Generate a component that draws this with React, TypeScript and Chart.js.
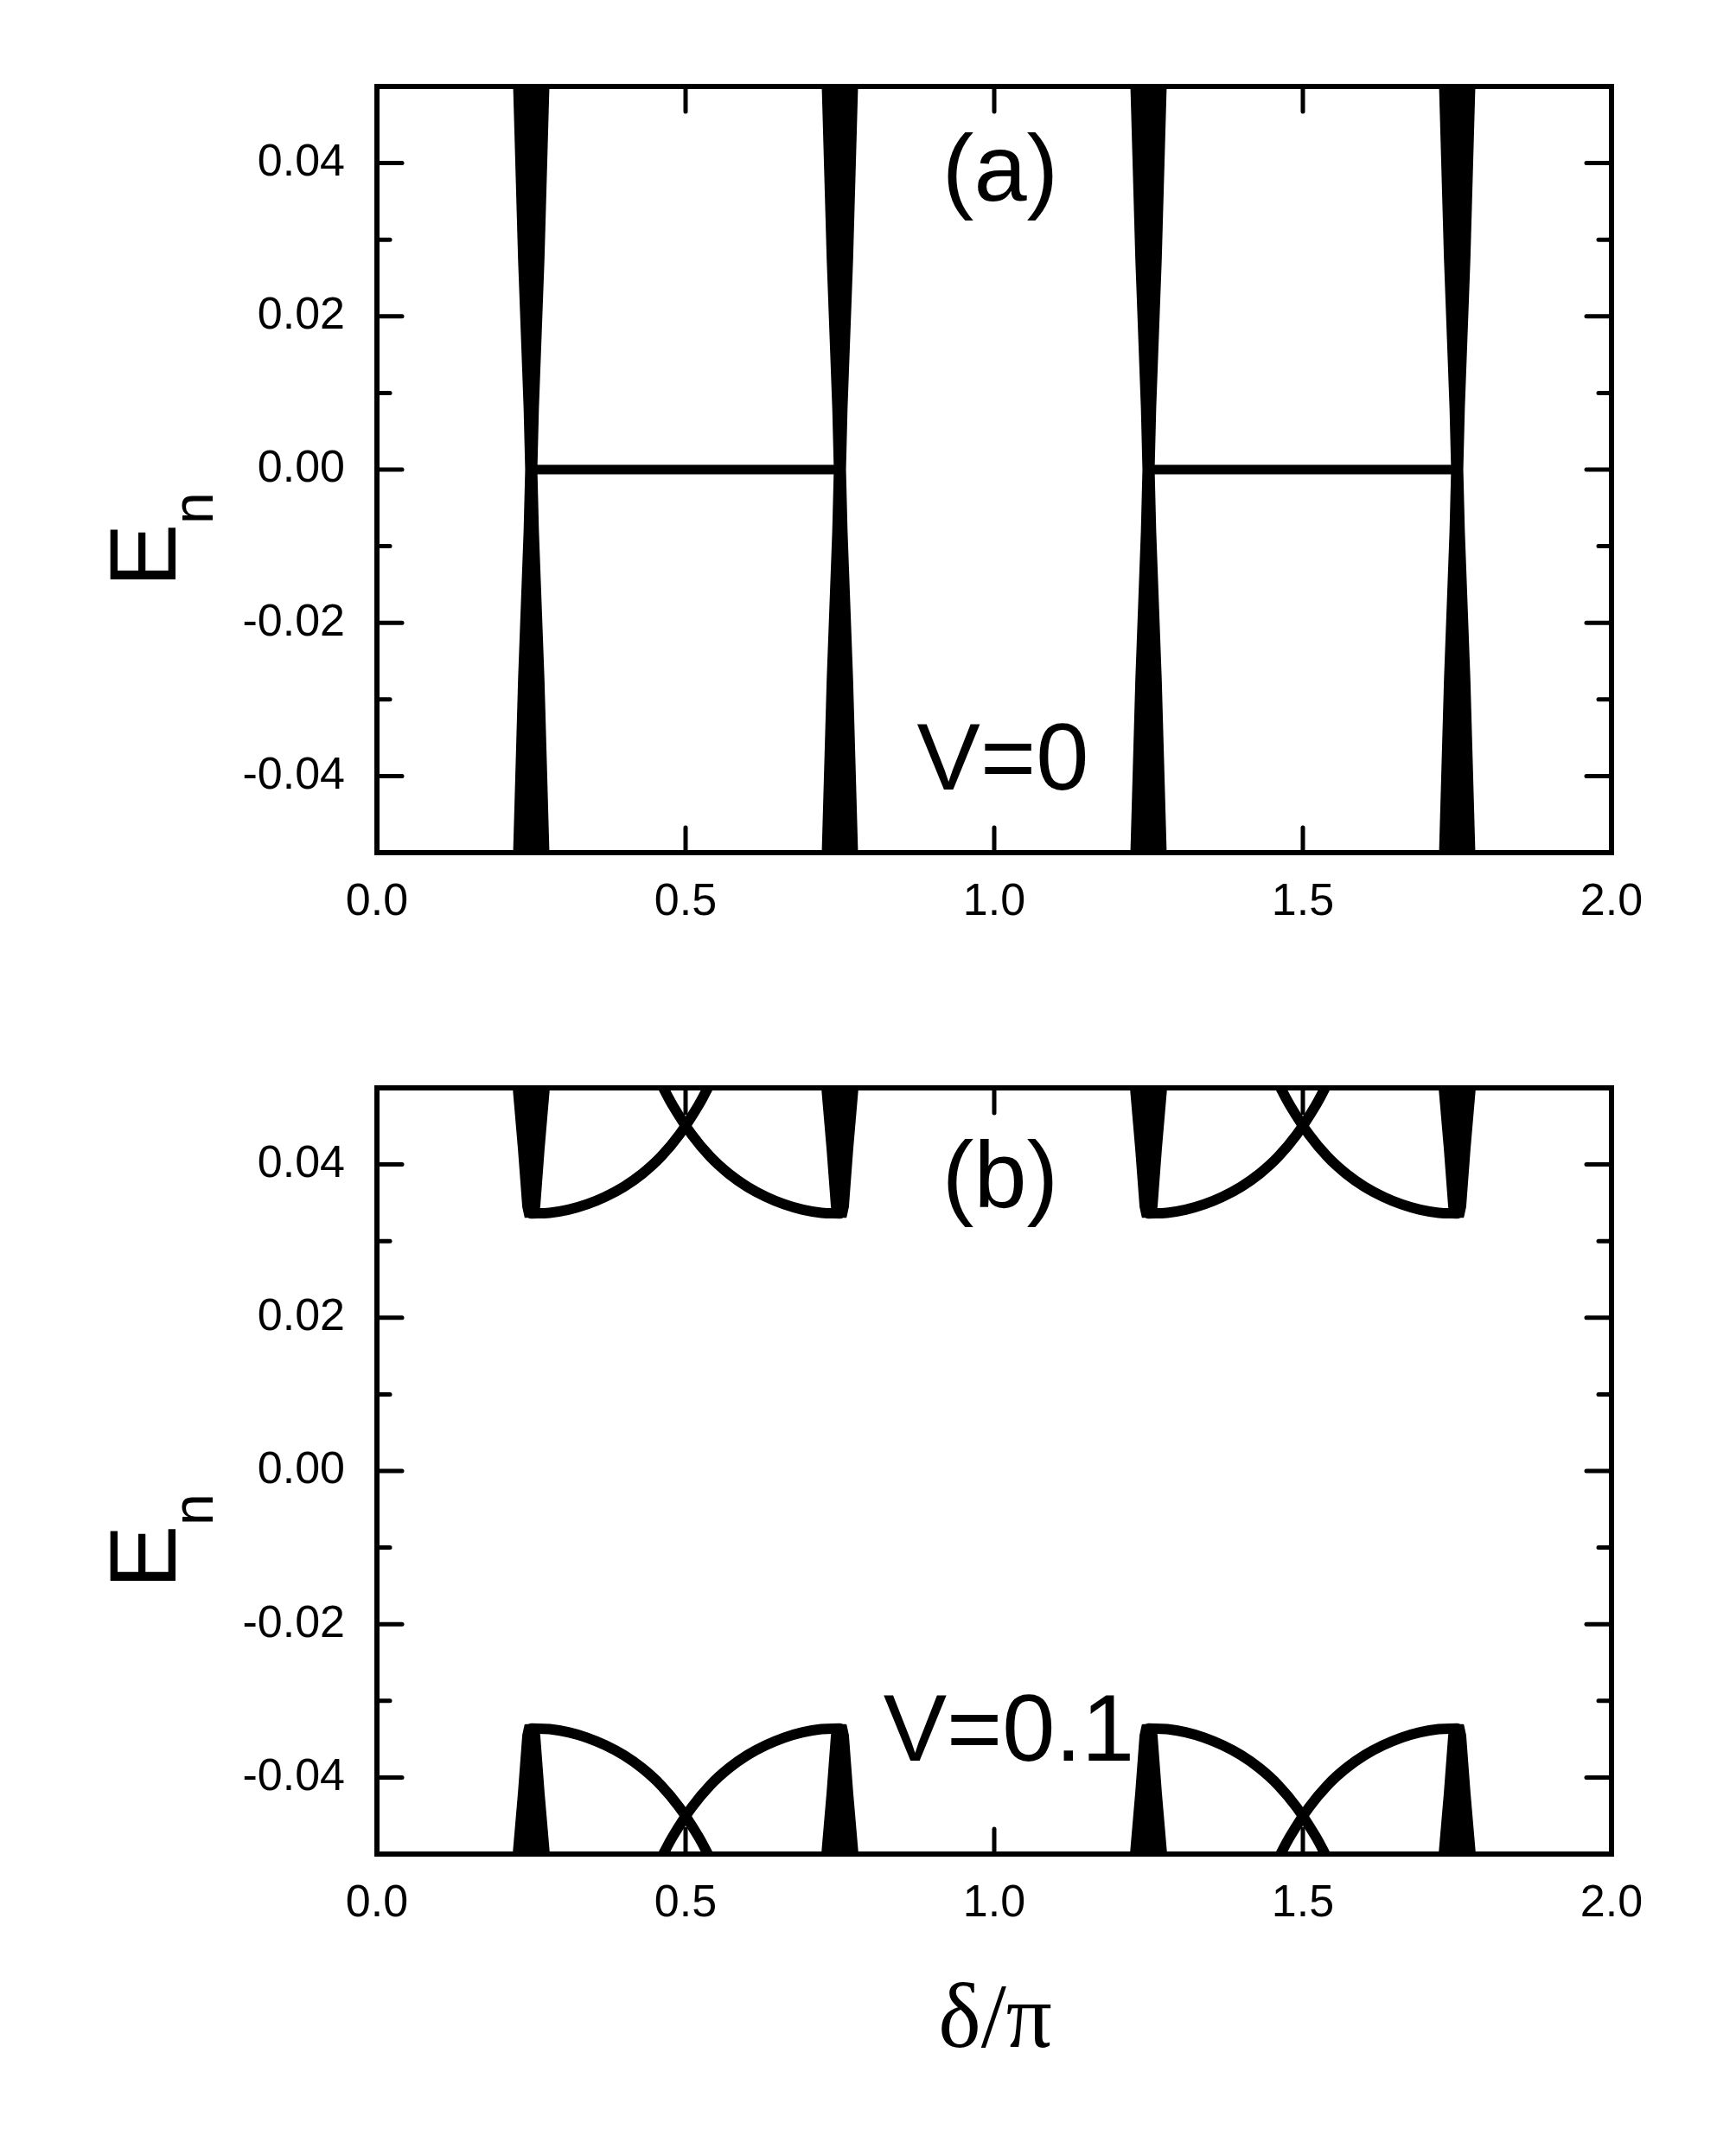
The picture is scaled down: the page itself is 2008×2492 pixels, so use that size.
import React, { useEffect, useRef } from 'react';
import { Chart, registerables } from 'chart.js';
Chart.register(...registerables);

// ---------- axes ----------
const X_RANGE = [0, 2];
const Y_RANGE = [-0.05, 0.05];
const X_TICK_STEP = 0.25;
const Y_TICK_STEP = 0.01;

// ---------- data ----------
const BAND_CENTERS = [0.25, 0.75, 1.25, 1.75];

// (a) V=0 : dense band fans around each band centre (E, half-width)
const WEDGE_A_E = [0.05, 0.0274, 0.008, 0];
const WEDGE_A_HALF = [0.028, 0.02, 0.011, 0.0085];
// zero-energy flat modes
const ZERO_LINE_START = [0.25, 1.25];
const ZERO_LINE_END = [0.75, 1.75];
const ZERO_LINE_E = [0, 0];

// (b) V=0.1 : truncated bands (E, half-width), upper band, mirrored below
const WEDGE_B_E = [0.05, 0.042, 0.0345, 0.0332];
const WEDGE_B_HALF = [0.028, 0.0195, 0.0125, 0.009];
// edge-state arcs: offset from origin vs |E|
const ARC_ORIGINS_RIGHTWARD = [0.25, 1.25];
const ARC_ORIGINS_LEFTWARD = [0.75, 1.75];
const ARC_DX = [0, 0.03, 0.06, 0.09, 0.12, 0.15, 0.18, 0.21, 0.24, 0.27, 0.29];
const ARC_E = [0.0336, 0.0337, 0.0341, 0.0348, 0.0358, 0.0371, 0.0388, 0.041, 0.0439, 0.0476, 0.0506];

// ---------- layout ----------
const W = 2008;
const TOP_H = 1158;
const BOT_H = 2492 - TOP_H;
const AREA_LEFT = 436;
const AREA_RIGHT = 1864;
const AREA_TOP = 100;
const AREA_BOTTOM = 986;

const SANS = '"Liberation Sans", Arial, sans-serif';
const SERIF = '"Liberation Serif", "Times New Roman", serif';

type Pt = { x: number; y: number };

function wedgeA(c: number): Pt[] {
  const n = WEDGE_A_E.length;
  const pts: Pt[] = [];
  for (let i = 0; i < n; i++) pts.push({ x: c + WEDGE_A_HALF[i], y: WEDGE_A_E[i] });
  for (let i = n - 2; i >= 0; i--) pts.push({ x: c + WEDGE_A_HALF[i], y: -WEDGE_A_E[i] });
  for (let i = 0; i < n; i++) pts.push({ x: c - WEDGE_A_HALF[i], y: -WEDGE_A_E[i] });
  for (let i = n - 2; i >= 0; i--) pts.push({ x: c - WEDGE_A_HALF[i], y: WEDGE_A_E[i] });
  pts.push(pts[0]);
  return pts;
}

function wedgeB(c: number, s: number): Pt[] {
  const n = WEDGE_B_E.length;
  const pts: Pt[] = [];
  for (let i = 0; i < n; i++) pts.push({ x: c + WEDGE_B_HALF[i], y: s * WEDGE_B_E[i] });
  for (let i = n - 1; i >= 0; i--) pts.push({ x: c - WEDGE_B_HALF[i], y: s * WEDGE_B_E[i] });
  pts.push(pts[0]);
  return pts;
}

const base = {
  showLine: true,
  pointRadius: 0,
  pointHoverRadius: 0,
  borderColor: '#000',
  backgroundColor: '#000',
  clip: 0,
};

function datasetsA() {
  const ds: any[] = [];
  BAND_CENTERS.forEach((c) => {
    ds.push({ ...base, data: wedgeA(c), fill: 'shape', borderWidth: 2, borderJoinStyle: 'round', tension: 0 });
  });
  ZERO_LINE_START.forEach((x0, i) => {
    ds.push({
      ...base,
      data: [{ x: x0, y: ZERO_LINE_E[i] }, { x: ZERO_LINE_END[i], y: ZERO_LINE_E[i] }],
      fill: false,
      borderWidth: 11,
      borderCapStyle: 'round',
    });
  });
  return ds;
}

function datasetsB() {
  const ds: any[] = [];
  [1, -1].forEach((s) => {
    BAND_CENTERS.forEach((c) => {
      ds.push({ ...base, data: wedgeB(c, s), fill: 'shape', borderWidth: 3, borderJoinStyle: 'round', tension: 0 });
    });
    ARC_ORIGINS_RIGHTWARD.forEach((o) => {
      ds.push({
        ...base,
        data: ARC_DX.map((d, i) => ({ x: o + d, y: s * ARC_E[i] })),
        fill: false, borderWidth: 12, tension: 0.4, borderCapStyle: 'round',
      });
    });
    ARC_ORIGINS_LEFTWARD.forEach((o) => {
      ds.push({
        ...base,
        data: ARC_DX.map((d, i) => ({ x: o - d, y: s * ARC_E[i] })),
        fill: false, borderWidth: 12, tension: 0.4, borderCapStyle: 'round',
      });
    });
  });
  return ds;
}

type TextItem = { text: string; x: number; y: number; font: string; align?: CanvasTextAlign };

function makePlugin(texts: TextItem[], showXTitle: boolean) {
  return {
    id: 'frameAndText',
    afterDatasetsDraw(chart: any) {
      const { ctx, chartArea: a, scales } = chart;
      const xs = scales.x;
      const ys = scales.y;
      ctx.save();
      ctx.strokeStyle = '#000';
      ctx.lineWidth = 6;
      ctx.lineJoin = 'miter';
      ctx.strokeRect(a.left, a.top, a.right - a.left, a.bottom - a.top);
      ctx.lineWidth = 5;
      ctx.lineCap = 'round';
      const seg = (x1: number, y1: number, x2: number, y2: number) => {
        ctx.beginPath();
        ctx.moveTo(x1, y1);
        ctx.lineTo(x2, y2);
        ctx.stroke();
      };
      for (const t of xs.ticks) {
        const v = t.value;
        if (v <= X_RANGE[0] + 1e-9 || v >= X_RANGE[1] - 1e-9) continue;
        const major = Math.round(v / X_TICK_STEP) % 2 === 0;
        const len = major ? 29 : 15;
        const px = xs.getPixelForValue(v);
        seg(px, a.bottom, px, a.bottom - len);
        seg(px, a.top, px, a.top + len);
      }
      for (const t of ys.ticks) {
        const v = t.value;
        if (v <= Y_RANGE[0] + 1e-9 || v >= Y_RANGE[1] - 1e-9) continue;
        const major = Math.abs(Math.round(v / Y_TICK_STEP)) % 2 === 0;
        const len = major ? 29 : 15;
        const py = ys.getPixelForValue(v);
        seg(a.left, py, a.left + len, py);
        seg(a.right, py, a.right - len, py);
      }
      ctx.restore();
    },
    afterDraw(chart: any) {
      const { ctx } = chart;
      ctx.save();
      ctx.fillStyle = '#000';
      ctx.textBaseline = 'alphabetic';
      for (const t of texts) {
        ctx.font = t.font;
        ctx.textAlign = t.align || 'center';
        ctx.fillText(t.text, t.x, t.y);
      }
      // y-axis title E_n (rotated)
      ctx.translate(203, 679);
      ctx.rotate(-Math.PI / 2);
      ctx.textAlign = 'left';
      ctx.font = `110px ${SANS}`;
      ctx.fillText('E', 0, 0);
      ctx.font = `66px ${SANS}`;
      ctx.fillText('n', 73, 43);
      ctx.restore();
      if (showXTitle) {
        ctx.save();
        ctx.fillStyle = '#000';
        ctx.font = `105px ${SERIF}`;
        ctx.textAlign = 'center';
        ctx.textBaseline = 'alphabetic';
        ctx.fillText('δ/π', 1151, 1209);
        ctx.restore();
      }
    },
  };
}

function Panel(props: { top: number; height: number; datasets: any[]; texts: TextItem[]; xTitle: boolean }) {
  const ref = useRef<HTMLCanvasElement>(null);
  useEffect(() => {
    if (!ref.current) return;
    const h = props.height;
    const chart = new Chart(ref.current, {
      type: 'scatter',
      data: { datasets: props.datasets },
      options: {
        animation: false,
        responsive: false,
        devicePixelRatio: 1,
        layout: { padding: { left: 0, right: W - AREA_RIGHT, top: AREA_TOP, bottom: 0 } },
        plugins: { legend: { display: false }, tooltip: { enabled: false } },
        events: [],
        scales: {
          x: {
            type: 'linear',
            min: X_RANGE[0],
            max: X_RANGE[1],
            grid: { display: false, drawTicks: false },
            border: { display: false },
            ticks: {
              stepSize: X_TICK_STEP,
              autoSkip: false,
              maxRotation: 0,
              padding: 26,
              color: '#000',
              font: { family: SANS, size: 52 },
              callback: (v: any) => {
                const k = Math.round(Number(v) / X_TICK_STEP);
                return k % 2 === 0 ? (k * X_TICK_STEP).toFixed(1) : '';
              },
            },
            afterFit: (s: any) => {
              s.height = h - AREA_BOTTOM;
            },
          },
          y: {
            type: 'linear',
            min: Y_RANGE[0],
            max: Y_RANGE[1],
            grid: { display: false, drawTicks: false },
            border: { display: false },
            ticks: {
              stepSize: Y_TICK_STEP,
              autoSkip: false,
              padding: 37,
              color: '#000',
              font: { family: SANS, size: 52 },
              callback: (v: any) => {
                const k = Math.round(Number(v) / Y_TICK_STEP);
                return Math.abs(k) % 2 === 0 ? (k * Y_TICK_STEP).toFixed(2) : '';
              },
            },
            afterFit: (s: any) => {
              s.width = AREA_LEFT;
            },
          },
        },
      } as any,
      plugins: [makePlugin(props.texts, props.xTitle)],
    });
    return () => chart.destroy();
  }, []);
  return (
    <canvas
      ref={ref}
      width={W}
      height={props.height}
      style={{ position: 'absolute', left: 0, top: props.top, width: W, height: props.height }}
    />
  );
}

const TEXTS_A: TextItem[] = [
  { text: '(a)', x: 1157, y: 232, font: `110px ${SANS}` },
  { text: 'V=0', x: 1160, y: 913, font: `110px ${SANS}` },
];
const TEXTS_B: TextItem[] = [
  { text: '(b)', x: 1157, y: 238, font: `110px ${SANS}` },
  { text: 'V=0.1', x: 1167, y: 878, font: `110px ${SANS}` },
];

export default function App() {
  return (
    <div style={{ position: 'absolute', left: 0, top: 0, width: W, height: 2492, background: '#fff' }}>
      <Panel top={0} height={TOP_H} datasets={datasetsA()} texts={TEXTS_A} xTitle={false} />
      <Panel top={TOP_H} height={BOT_H} datasets={datasetsB()} texts={TEXTS_B} xTitle={true} />
    </div>
  );
}
